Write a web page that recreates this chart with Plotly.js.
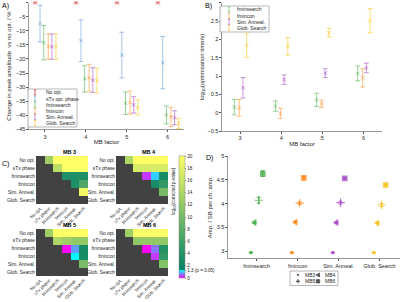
<!DOCTYPE html>
<html><head><meta charset="utf-8">
<script src="https://cdn.plot.ly/plotly-3.0.1.min.js"></script>
<style>html,body{margin:0;padding:0;background:#fff}#chart{width:400px;height:302px}</style>
</head><body><div id="chart"></div>
<script>
// ---------- DATA ----------
const mbFactors = [3, 4, 5, 6];
const seriesNamesA = ['No opt.', 'sTx opt. phase', 'fminsearch', 'fmincon', 'Sim. Anneal.', 'Glob. Search'];
const ampNoOpt = [0, 0, 0, 0];
const errNoOpt = [0, 0, 0, 0];
const ampSTxPhase = [-7.4, -13.5, -18.6, -21.3];
const errSTxPhase = [6.5, 7.4, 8.1, 9.3];
const ampFminsearch = [-14.2, -27.1, -35.7, -39.9];
const errFminsearch = [6.1, 4.7, 4.0, 3.2];
const ampFmincon = [-15.6, -26.7, -35.5, -40.6];
const errFmincon = [4.5, 4.8, 4.1, 3.4];
const ampSimAnneal = [-15.6, -27.5, -36.3, -40.9];
const errSimAnneal = [4.5, 4.4, 2.9, 2.5];
const ampGlobSearch = [-15.6, -27.7, -37.2, -42.9];
const errGlobSearch = [4.5, 4.4, 2.7, 1.8];

const seriesNamesB = ['fminsearch', 'fmincon', 'Sim. Anneal.', 'Glob. Search'];
const timeFminsearch = [0.15, 0.18, 0.35, 1.07];
const timeErrFminsearch = [0.21, 0.14, 0.18, 0.2];
const timeFmincon = [0.13, -0.02, 0.24, 0.95];
const timeErrFmincon = [0.23, 0.14, 0.1, 0.25];
const timeSimAnneal = [0.68, 0.9, 1.08, 1.22];
const timeErrSimAnneal = [0.28, 0.13, 0.12, 0.13];
const timeGlobSearch = [1.83, 1.81, 2.18, 2.51];
const timeErrGlobSearch = [0.32, 0.24, 0.12, 0.33];

const heatLabels = ['No opt.', 'sTx phase', 'fminsearch', 'fmincon', 'Sim. Anneal.', 'Glob. Search'];
const heatTitles = ['MB 3', 'MB 4', 'MB 5', 'MB 6'];
const pMB3 = [
  [null, 13, 20, 20, 20, 20],
  [null, null, 15, 20, 20, 20],
  [null, null, null, 3.5, 3.5, 3.5],
  [null, null, null, null, 3.5, 7],
  [null, null, null, null, null, 19],
  [null, null, null, null, null, null]];
const pMB4 = [
  [null, 14, 20, 20, 20, 20],
  [null, null, 17, 17, 17, 17],
  [null, null, null, 0.3, 1.05, 3],
  [null, null, null, null, 3, 5],
  [null, null, null, null, null, 10],
  [null, null, null, null, null, null]];
const pMB5 = [
  [null, 13, 20, 20, 20, 20],
  [null, null, 14, 13, 12, 12],
  [null, null, null, 0, 0.8, 3],
  [null, null, null, null, 1.25, 3],
  [null, null, null, null, null, 10],
  [null, null, null, null, null, null]];
const pMB6 = [
  [null, 13, 19.5, 19.5, 19.5, 19.5],
  [null, null, 12, 12, 12, 12],
  [null, null, null, 0, 0.6, 4],
  [null, null, null, null, 0.3, 5],
  [null, null, null, null, null, 11],
  [null, null, null, null, null, null]];
const cbTickVals = [0, 1.3, 2, 4, 6, 8, 10, 12, 14, 16, 18, 20];
const cbTickText = ['0', '1.3 (p = 0.05)', '2', '4', '6', '8', '10', '12', '14', '16', '18', '20'];

const categoriesD = ['fminsearch', 'fmincon', 'Sim. Anneal.', 'Glob. Search'];
const mbNamesD = ['MB3', 'MB4', 'MB5', 'MB6'];
const ampSbFminsearch = [2.97, 3.60, 4.07, 4.63];
const ampSbErrFminsearch = [0.005, 0.015, 0.06, 0.06];
const ampSbFmincon = [2.97, 3.61, 4.01, 4.54];
const ampSbErrFmincon = [0.005, 0.015, 0.025, 0.03];
const ampSbSimAnneal = [2.97, 3.60, 4.02, 4.53];
const ampSbErrSimAnneal = [0.005, 0.015, 0.03, 0.02];
const ampSbGlobSearch = [2.97, 3.59, 3.97, 4.39];
const ampSbErrGlobSearch = [0.005, 0.015, 0.03, 0.02];

// ---------- STYLE / LAYOUT ----------
const W = 400, H = 302;
const FONT = 'Liberation Sans, Arial, sans-serif';
const TXT = '#262626';
const px = x => x / W, py = y => 1 - y / H;
const dx = (a, b) => [a / W, b / W];
const dy = (top, bot) => [1 - bot / H, 1 - top / H];

const colA = ['rgba(225,60,60,0.75)', 'rgba(90,150,215,0.55)', 'rgba(70,175,70,0.55)', 'rgba(255,140,30,0.55)', 'rgba(160,70,190,0.55)', 'rgba(250,200,30,0.6)'];
const solid = ['#3aa83a', '#ff8010', '#a040c0', '#f5bf10'];
const offA = [-0.24, -0.12, -0.03, 0.08, 0.17, 0.27];
const offB = [-0.14, -0.02, 0.07, 0.16];
const offD = [-0.14, -0.05, 0.05, 0.15];

const traces = [];
const ampA = [ampNoOpt, ampSTxPhase, ampFminsearch, ampFmincon, ampSimAnneal, ampGlobSearch];
const errA = [errNoOpt, errSTxPhase, errFminsearch, errFmincon, errSimAnneal, errGlobSearch];
ampA.forEach((ys, i) => {
  traces.push({
    type: 'scatter', mode: 'markers', name: seriesNamesA[i], showlegend: false,
    x: mbFactors.map(m => m + offA[i]), y: ys, xaxis: 'x', yaxis: 'y', cliponaxis: false,
    marker: {symbol: 'x-thin', size: 3.5, color: colA[i], line: {width: 1, color: colA[i]}},
    error_y: {type: 'data', array: errA[i], visible: true, color: colA[i], thickness: 1, width: 2.5}
  });
});
const timeB = [timeFminsearch, timeFmincon, timeSimAnneal, timeGlobSearch];
const timeErrB = [timeErrFminsearch, timeErrFmincon, timeErrSimAnneal, timeErrGlobSearch];
timeB.forEach((ys, i) => {
  const c = colA[i + 2];
  traces.push({
    type: 'scatter', mode: 'markers', name: seriesNamesB[i], showlegend: false,
    x: mbFactors.map(m => m + offB[i]), y: ys, xaxis: 'x2', yaxis: 'y2',
    marker: {symbol: 'x-thin', size: 3.5, color: c, line: {width: 1, color: c}},
    error_y: {type: 'data', array: timeErrB[i], visible: true, color: c, thickness: 1, width: 2.5}
  });
});

// heatmaps
const cscale = [[0, 'rgb(255,0,255)'], [0.065, 'rgb(0,255,255)'], [0.0651, 'rgb(0,128,102)'], [1, 'rgb(255,255,102)']];
const heatData = [pMB3, pMB4, pMB5, pMB6];
const lowerMask = heatLabels.map((r, i) => heatLabels.map((c, j) => (j <= i ? 1 : null)));
const idx = heatLabels.map((_, i) => i);
heatData.forEach((z, k) => {
  const xa = 'x' + (k + 3), ya = 'y' + (k + 3);
  traces.push({type: 'heatmap', x: idx, y: idx, z: lowerMask, xaxis: xa, yaxis: ya,
    colorscale: [[0, '#424242'], [1, '#424242']], showscale: false, hoverinfo: 'skip'});
  const t = {type: 'heatmap', x: idx, y: idx, z: z, xaxis: xa, yaxis: ya, zmin: 0, zmax: 20,
    colorscale: cscale, showscale: k === 0, name: heatTitles[k]};
  if (k === 0) {
    t.colorbar = {x: px(179), xanchor: 'left', y: py(156), yanchor: 'top', len: (278 - 156) / H,
      lenmode: 'fraction', thickness: 6, thicknessmode: 'pixels', tickvals: cbTickVals, ticktext: cbTickText,
      tickfont: {size: 4.6, family: FONT, color: TXT}, outlinewidth: 0.5, outlinecolor: '#888',
      ticks: 'outside', ticklen: 1.5, tickcolor: '#888', xpad: 0, ypad: 0, borderwidth: 0};
  }
  traces.push(t);
});

// panel D
const ampSbD = [ampSbFminsearch, ampSbFmincon, ampSbSimAnneal, ampSbGlobSearch];
const ampSbErrD = [ampSbErrFminsearch, ampSbErrFmincon, ampSbErrSimAnneal, ampSbErrGlobSearch];
const symD = ['circle', 'triangle-left', 'cross-thin', 'square'];
const sizeD = [2.5, 5, 6, 4.5];
ampSbD.forEach((ys, c) => {
  traces.push({
    type: 'scatter', mode: 'markers', name: categoriesD[c], showlegend: false,
    x: mbNamesD.map((_, m) => c + offD[m]), y: ys, xaxis: 'x7', yaxis: 'y7', text: mbNamesD,
    marker: {symbol: symD, size: sizeD, color: solid[c], line: {width: 1.2, color: solid[c]}},
    error_y: {type: 'data', array: ampSbErrD[c], visible: true, color: solid[c], thickness: 0.8, width: 2}
  });
});

const tickf = {size: 5.5, family: FONT, color: TXT};
const titf = {size: 6, family: FONT, color: TXT};
const axLine = {showline: true, linecolor: '#555', linewidth: 0.6, ticks: 'outside', ticklen: 2, tickcolor: '#555',
  showgrid: false, zeroline: false, tickfont: tickf};

const layout = {
  width: W, height: H, margin: {l: 0, r: 0, t: 0, b: 0}, paper_bgcolor: '#fff', plot_bgcolor: 'rgba(0,0,0,0)',
  showlegend: false, font: {family: FONT, size: 6, color: TXT},
  xaxis: Object.assign({}, axLine, {domain: dx(29, 184), range: [2.61, 6.4], tickvals: mbFactors, anchor: 'y',
    title: {text: 'MB factor', font: titf, standoff: 1}}),
  yaxis: Object.assign({}, axLine, {domain: dy(2.7, 129.3), range: [-45, 0], dtick: 5, anchor: 'x',
    title: {text: 'Change in peak amplitude  vs no opt. / %', font: titf, standoff: 3}}),
  xaxis2: Object.assign({}, axLine, {domain: dx(222, 382), range: [2.56, 6.45], tickvals: mbFactors, anchor: 'y2',
    title: {text: 'MB factor', font: titf, standoff: 1}}),
  yaxis2: Object.assign({}, axLine, {domain: dy(2.7, 131), range: [-0.5, 3], dtick: 0.5, anchor: 'x2',
    title: {text: 'log<sub>10</sub>(optimisation time/s)', font: titf, standoff: 2}}),
  xaxis7: Object.assign({}, axLine, {domain: dx(228, 400), range: [-0.7, 3.5], tickvals: [0, 1, 2, 3],
    ticktext: categoriesD, anchor: 'y7'}),
  yaxis7: Object.assign({}, axLine, {domain: dy(156, 258.3), range: [2.85, 5], dtick: 0.5, anchor: 'x7',
    title: {text: 'Amp. / SB per ch. amp.', font: titf, standoff: 3}}),
  shapes: [], annotations: []
};
const heatDom = [[dx(36, 88), dy(156, 204)], [dx(116, 168), dy(156, 204)], [dx(36, 88), dy(229, 276)], [dx(116, 168), dy(229, 276)]];
heatDom.forEach((d, k) => {
  const n = k + 3;
  layout['xaxis' + n] = {domain: d[0], range: [-0.5, 5.5], tickvals: idx, ticktext: heatLabels, tickangle: -45,
    tickfont: {size: 4.5, family: FONT, color: TXT}, showgrid: false, zeroline: false, showline: false, ticks: '',
    anchor: 'y' + n, fixedrange: true};
  layout['yaxis' + n] = {domain: d[1], range: [5.5, -0.5], tickvals: idx, ticktext: heatLabels,
    tickfont: {size: 4.8, family: FONT, color: TXT}, showgrid: false, zeroline: false, showline: false, ticks: '',
    anchor: 'x' + n, fixedrange: true};
  const cx = (d[0][0] + d[0][1]) / 2 + 7 / W;
  layout.annotations.push({text: '<b>' + heatTitles[k] + '</b>', x: cx, y: d[1][1], xref: 'paper', yref: 'paper',
    xanchor: 'center', yanchor: 'bottom', showarrow: false, font: {size: 5.5, family: FONT, color: '#000'}, yshift: -1});
});

// panel labels
[['A)', 0, 0], ['B)', 203, 0], ['C)', 0, 158], ['D)', 204, 152]].forEach(p => {
  layout.annotations.push({text: p[0], x: px(p[1]), y: py(p[2]), xref: 'paper', yref: 'paper', xanchor: 'left',
    yanchor: 'top', showarrow: false, font: {size: 7, family: FONT, color: '#000'}});
});
// colorbar title
layout.annotations.push({text: 'log<sub>10</sub>(corrected p-value)', x: px(174), y: py(217), xref: 'paper', yref: 'paper',
  textangle: -90, showarrow: false, font: {size: 4.5, family: FONT, color: TXT}});

// legend helpers (drawn as annotations + shapes in pixel space)
function legendBox(x0, y0, x1, y1) {
  layout.shapes.push({type: 'rect', xref: 'paper', yref: 'paper', x0: px(x0), x1: px(x1), y0: py(y0), y1: py(y1),
    line: {color: '#888', width: 0.6}, fillcolor: 'rgba(255,255,255,0.9)'});
}
function legendText(t, x, y) {
  layout.annotations.push({text: t, x: px(x), y: py(y), xref: 'paper', yref: 'paper', xanchor: 'left', yanchor: 'middle',
    showarrow: false, font: {size: 5, family: FONT, color: TXT}});
}
function errKey(x, y, c) {
  const L = {color: c, width: 1};
  layout.shapes.push({type: 'line', xref: 'paper', yref: 'paper', x0: px(x), x1: px(x), y0: py(y - 2.5), y1: py(y + 2.5), line: L});
  layout.shapes.push({type: 'line', xref: 'paper', yref: 'paper', x0: px(x - 1.2), x1: px(x + 1.2), y0: py(y - 2.5), y1: py(y - 2.5), line: L});
  layout.shapes.push({type: 'line', xref: 'paper', yref: 'paper', x0: px(x - 1.2), x1: px(x + 1.2), y0: py(y + 2.5), y1: py(y + 2.5), line: L});
}
// legend A
legendBox(28, 89, 77, 127);
seriesNamesA.forEach((n, i) => { const y = 92.5 + i * 6.1; errKey(35, y, colA[i]); legendText(n, 44, y); });
// legend B
legendBox(220, 6, 269, 32);
seriesNamesB.forEach((n, i) => { const y = 9.5 + i * 6.2; errKey(229, y, colA[i + 2]); legendText(n, 235, y); });
// legend D
legendBox(290, 271, 338, 285.5);
const kc = '#555';
function keyD(kind, x, y) {
  const base = {xref: 'paper', yref: 'paper', line: {color: kc, width: 0.8}, fillcolor: kc};
  if (kind === 0) layout.shapes.push(Object.assign({type: 'circle', x0: px(x - 0.8), x1: px(x + 0.8), y0: py(y - 0.8), y1: py(y + 0.8)}, base));
  if (kind === 1) layout.shapes.push(Object.assign({type: 'path', path: `M ${px(x - 2)} ${py(y)} L ${px(x + 1.5)} ${py(y - 2)} L ${px(x + 1.5)} ${py(y + 2)} Z`}, base));
  if (kind === 2) {
    layout.shapes.push(Object.assign({type: 'line', x0: px(x - 2), x1: px(x + 2), y0: py(y), y1: py(y)}, base, {line: {color: kc, width: 1.2}}));
    layout.shapes.push(Object.assign({type: 'line', x0: px(x), x1: px(x), y0: py(y - 2), y1: py(y + 2)}, base, {line: {color: kc, width: 1.2}}));
  }
  if (kind === 3) layout.shapes.push(Object.assign({type: 'rect', x0: px(x - 1.7), x1: px(x + 1.7), y0: py(y - 1.7), y1: py(y + 1.7)}, base));
}
mbNamesD.forEach((n, m) => {
  const col = m % 2, row = Math.floor(m / 2);
  const x = col === 0 ? 298 : 318, y = 275 + row * 6.3;
  keyD(m, x, y); legendText(n, x + 5, y);
});

Plotly.newPlot('chart', traces, layout, {staticPlot: true, displayModeBar: false});
</script>
</body></html>
